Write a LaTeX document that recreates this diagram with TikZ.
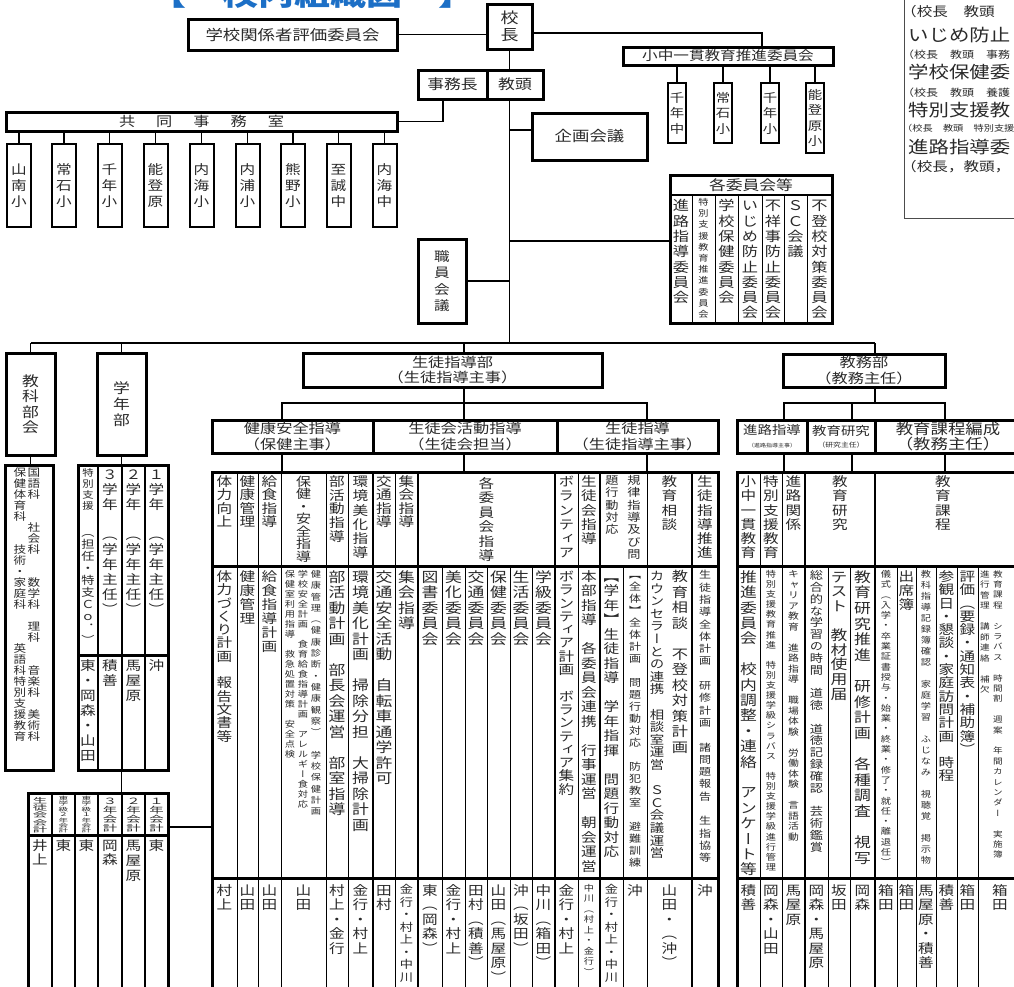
\documentclass[tikz,border=0pt]{standalone}
\usepackage{fontspec}
\usepackage{graphicx}
\newfontfamily\jp{Noto Sans CJK JP}[FakeStretch=1.2]
\newfontfamily\jpv{Noto Sans CJK JP}[FakeStretch=1.2,RawFeature={+vert}]
\definecolor{txt}{HTML}{2A2A2A}
\definecolor{ttl}{HTML}{1C6FC6}
\def\vtend{VTEND}
\def\vys{1}
\def\vtloop#1{\ifx\vtend#1\else\hbox to 0pt{\hss\scalebox{1}[\vys]{\vrule height .88em depth .12em width 0pt\relax #1}\hss}\expandafter\vtloop\fi}
\newcommand\vt[2]{\vbox{\baselineskip=#1pt\lineskiplimit=-1000pt\lineskip=0pt\relax\vtloop#2\vtend}}
\newcommand\vc[7]{\node[vcol,font=\jpv\fontsize{#4}{#4}\selectfont] (#1) at (#2,#3) {\def\vys{#6}\vt{#5}{#7}};}
\tikzset{
  vcol/.style={anchor=north,inner sep=0pt,outer sep=0pt,text=txt},
  bx/.style={draw=black,line width=3pt,fill=white,inner sep=0pt,outer sep=0pt,text=txt},
  sbx/.style={bx,line width=2pt,font=\jpv\fontsize{12}{12}\selectfont},
  cn/.style={draw=black,line width=1.3pt},
  tb/.style={draw=black,line width=3pt},
  thn/.style={draw=black,line width=1pt},
  thk/.style={draw=black,line width=2.2pt},
  itx/.style={anchor=west,inner sep=0pt,text=txt},
  hfont/.style={font=\jp\fontsize{#1}{#1}\selectfont},
  twol/.style={font=\jp\fontsize{#1}{15.5}\selectfont,align=center},
}
\begin{document}
\begin{tikzpicture}[x=1pt,y=-1pt]
\useasboundingbox (0,0) rectangle (1014,986);
\clip (0,0) rectangle (1014,986);
\fill[white] (0,0) rectangle (1014,986);

% title
\node[anchor=base,inner sep=0pt,text=ttl,font=\jp\fontsize{30}{30}\selectfont\bfseries] (title) at (312,5) {【　校内組織図　】};

% top-right info box
\node[draw=black!70,line width=1pt,minimum width=130pt,minimum height=240pt,inner sep=0pt] (info) at (969,98) {};
\node[itx,hfont=13] (i1) at (901,12) {（校長　教頭　};
\node[itx,hfont=17] (i2) at (908,35) {いじめ防止};
\node[itx,hfont=10] (i3) at (902,55) {（校長　教頭　事務};
\node[itx,hfont=17] (i4) at (908,72) {学校保健委};
\node[itx,hfont=10] (i5) at (902,93) {（校長　教頭　養護};
\node[itx,hfont=17] (i6) at (908,110) {特別支援教};
\node[itx,hfont=8.5] (i7) at (902,128) {（校長　教頭　特別支援};
\node[itx,hfont=17] (i8) at (908,147) {進路指導委};
\node[itx,hfont=13] (i9) at (901,167) {（校長，教頭，};

% top
\node[bx,minimum width=209pt,minimum height=31pt,hfont=14.5] (hyoka) at (292.5,34.5) {学校関係者評価委員会};
\node[bx,minimum width=45pt,minimum height=45pt,font=\jpv\fontsize{15}{15}\selectfont] (kocho) at (509.5,26.5) {\vt{17}{校長}};
\draw[cn] (hyoka.east) -- (hyoka.east -| kocho.west);

\node[bx,minimum width=210pt,minimum height=18pt,hfont=13] (shochu) at (728,56) {小中一貫教育推進委員会};
\coordinate (y33) at (0,33);
\coordinate (scx) at (762,0);
\draw[cn] (kocho.east |- y33) -| (scx |- shochu.north);
\node[sbx,minimum width=18pt,minimum height=60pt] (sk1) at (677,113) {\vt{15.5}{千年中}};
\node[sbx,minimum width=18pt,minimum height=60pt] (sk2) at (723,113) {\vt{15.5}{常石小}};
\node[sbx,minimum width=18pt,minimum height=60pt] (sk3) at (770,113) {\vt{15.5}{千年小}};
\node[sbx,minimum width=18pt,minimum height=70pt] (sk4) at (815,118) {\vt{15.5}{能登原小}};
\foreach \n in {sk1,sk2,sk3,sk4}{\draw[cn] (\n.north) -- (\n.north |- shochu.south);}

\node[bx,minimum width=69pt,minimum height=29pt,hfont=14] (jimu) at (452.5,84.5) {事務長};
\node[bx,minimum width=56pt,minimum height=29pt,hfont=14] (kyoto) at (515,84.5) {教頭};
\draw[cn] (kocho.south) -- (kocho.south |- kyoto.north);

\node[bx,minimum width=391pt,minimum height=19pt,hfont=13.5] (kyodo) at (201.5,121.5) {共\hspace{21pt}同\hspace{21pt}事\hspace{21pt}務\hspace{21pt}室};
\coordinate (jx) at (443,0);
\draw[cn] (jx |- jimu.south) |- (kyodo.east);
\node[sbx,minimum width=24pt,minimum height=83pt,font=\jpv\fontsize{13}{13}\selectfont] (sch1) at (19,185.5) {\vt{16}{山南小}};
\node[sbx,minimum width=24pt,minimum height=83pt,font=\jpv\fontsize{13}{13}\selectfont] (sch2) at (64,185.5) {\vt{16}{常石小}};
\node[sbx,minimum width=24pt,minimum height=83pt,font=\jpv\fontsize{13}{13}\selectfont] (sch3) at (109.5,185.5) {\vt{16}{千年小}};
\node[sbx,minimum width=24pt,minimum height=83pt,font=\jpv\fontsize{13}{13}\selectfont] (sch4) at (155.5,185.5) {\vt{16}{能登原}};
\node[sbx,minimum width=24pt,minimum height=83pt,font=\jpv\fontsize{13}{13}\selectfont] (sch5) at (201.5,185.5) {\vt{16}{内海小}};
\node[sbx,minimum width=24pt,minimum height=83pt,font=\jpv\fontsize{13}{13}\selectfont] (sch6) at (247.5,185.5) {\vt{16}{内浦小}};
\node[sbx,minimum width=24pt,minimum height=83pt,font=\jpv\fontsize{13}{13}\selectfont] (sch7) at (293,185.5) {\vt{16}{熊野小}};
\node[sbx,minimum width=24pt,minimum height=83pt,font=\jpv\fontsize{13}{13}\selectfont] (sch8) at (338.5,185.5) {\vt{16}{至誠中}};
\node[sbx,minimum width=24pt,minimum height=83pt,font=\jpv\fontsize{13}{13}\selectfont] (sch9) at (384.5,185.5) {\vt{16}{内海中}};
\foreach \n in {sch1,sch2,sch3,sch4,sch5,sch6,sch7,sch8,sch9}{\draw[cn] (\n.north) -- (\n.north |- kyodo.south);}

% trunk
\coordinate (tr) at (509.5,343);
\draw[cn] (kocho.south |- kyoto.south) -- (tr);
\node[bx,minimum width=115pt,minimum height=47pt,hfont=14.5] (kikaku) at (589.5,136.5) {企画会議};
\coordinate (y130) at (0,130);
\draw[cn] (tr |- y130) -- (kikaku.west |- y130);

\node[bx,minimum width=162pt,minimum height=148pt] (kakui) at (751,249) {};
\draw[line width=1.5pt] (670,195) -- (832,195);
\foreach \x in {692,715,738,762,784,807}{\draw[thn] (\x,195) -- (\x,323);}
\node[inner sep=0pt,text=txt,hfont=14] (kakuih) at (751,185.5) {各委員会等};
\vc{kc1}{681}{199}{13.5}{15.3}{1}{進路指導委員会}
\vc{kc2}{703.5}{198}{8.5}{11.2}{1}{特別支援教育推進委員会}
\vc{kc3}{726.5}{199}{13.5}{15.3}{1}{学校保健委員会}
\vc{kc4}{750}{199}{13.5}{15.3}{1}{いじめ防止委員会}
\vc{kc5}{773}{199}{13.5}{15.3}{1}{不祥事防止委員会}
\vc{kc6}{795.5}{199}{13.5}{15.3}{1}{ＳＣ会議}
\vc{kc7}{819.5}{199}{13.5}{15.3}{1}{不登校対策委員会}
\coordinate (y241) at (0,241);
\draw[cn] (tr |- y241) -- (kakui.west |- y241);

\node[bx,minimum width=48pt,minimum height=84pt,font=\jpv\fontsize{13}{13}\selectfont] (shokuin) at (442,281) {\vt{16.5}{職員会議}};
\draw[cn] (shokuin.east) -- (shokuin.east -| tr);

% main horizontal
\coordinate (hl) at (30.5,343);
\coordinate (hr) at (875,343);
\draw[cn] (hl) -- (hr);

\node[bx,minimum width=49pt,minimum height=102pt,font=\jpv\fontsize{14}{14}\selectfont] (kyoka) at (30.5,404) {\vt{15.5}{教科部会}};
\node[bx,minimum width=49pt,minimum height=102pt,font=\jpv\fontsize{14}{14}\selectfont] (gakunen) at (121.5,404) {\vt{16}{学年部}};
\draw[cn] (hl) -- (hl |- kyoka.north);
\draw[cn] (gakunen.north) -- (gakunen.north |- hl);

\node[bx,minimum width=299pt,minimum height=34pt,twol=13.5] (seishibu) at (452.5,370) {生徒指導部\\（生徒指導主事）};
\coordinate (sx) at (464,0);
\draw[cn] (sx |- hl) -- (sx |- seishibu.north);
\node[bx,minimum width=162pt,minimum height=33pt,twol=13.5] (kyomu) at (864,370.5) {教務部\\（教務主任）};
\draw[cn] (hr) -- (hr |- kyomu.north);

% sub headers
\node[bx,minimum width=161pt,minimum height=33pt,twol=13.5] (kenko) at (292.5,436.5) {健康安全指導\\（保健主事）};
\node[bx,minimum width=184pt,minimum height=33pt,twol=13.5] (seitokai) at (465,436.5) {生徒会活動指導\\（生徒会担当）};
\node[bx,minimum width=161pt,minimum height=33pt,twol=13.5] (seishi) at (637.5,436.5) {生徒指導\\（生徒指導主事）};
\coordinate (ax) at (282,0);
\coordinate (cx) at (647,0);
\coordinate (y403) at (0,403);
\draw[cn] (ax |- kenko.north) -- (ax |- y403) -- (cx |- y403) -- (cx |- seishi.north);
\draw[cn] (sx |- seishibu.south) -- (sx |- seitokai.north);

\node[bx,minimum width=70pt,minimum height=33pt,align=center,font=\jp] (shinro) at (772,436.5) {\fontsize{12}{12}\selectfont 進路指導\\[1pt]\fontsize{5}{5}\selectfont（進路指導主事）};
\node[bx,minimum width=68pt,minimum height=33pt,align=center,font=\jp] (kyoken) at (841,436.5) {\fontsize{12}{12}\selectfont 教育研究\\[0pt]\fontsize{6.5}{6.5}\selectfont（研究主任）};
\node[bx,minimum width=146pt,minimum height=33pt,twol=14.5] (kyokatei) at (948,436.5) {教育課程編成\\（教務主任）};
\coordinate (r1) at (784,0);
\coordinate (r2) at (852,0);
\coordinate (r3) at (945,0);
\draw[cn] (hr |- kyomu.south) -- (hr |- y403);
\draw[cn] (r1 |- shinro.north) -- (r1 |- y403) -- (r3 |- y403) -- (r3 |- kyokatei.north);
\draw[cn] (r2 |- y403) -- (r2 |- kyoken.north);

% tables as nodes
\node[tb,minimum width=506pt,minimum height=528pt,inner sep=0pt] (ltab) at (465,736) {};
\node[tb,minimum width=293pt,minimum height=528pt,inner sep=0pt] (rtab) at (883.5,736) {};
\foreach \c in {ax,sx,cx}{\draw[cn] (\c |- kenko.south) -- (\c |- ltab.north);}
\foreach \c in {r1,r2,r3}{\draw[cn] (\c |- shinro.south) -- (\c |- rtab.north);}

% left table grid
\draw[tb] (212,566) -- (718,566);
\draw[tb] (212,878) -- (718,878);
\foreach \x in {237,258,281,326,348,395,578,647}{\draw[thn] (\x,472) -- (\x,566);}
\foreach \x in {373,418,555,600,692}{\draw[thk] (\x,472) -- (\x,1000);}
\foreach \x in {237,258,281,326,348,395,442,465,487,510,532,578,623,647}{\draw[thn] (\x,566) -- (\x,1000);}

% right table grid
\draw[tb] (737,566) -- (1030,566);
\draw[tb] (737,878) -- (1030,878);
\foreach \x in {760,782}{\draw[thn] (\x,472) -- (\x,1000);}
\foreach \x in {805,875}{\draw[thk] (\x,472) -- (\x,1000);}
\foreach \x in {828,850,897,916,936,957,978}{\draw[thn] (\x,566) -- (\x,1000);}

% left table header
\vc{h1}{224.5}{475}{13}{13.5}{1}{体力向上}
\vc{h2}{247.5}{475}{13}{13.5}{1}{健康管理}
\vc{h3}{269.5}{475}{13}{13.5}{1}{給食指導}
\vc{h4}{303.5}{475}{12.5}{12.5}{1}{保健・安全指導}
\vc{h5}{337}{475}{13}{13.7}{1}{部活動指導}
\vc{h6}{360.5}{475}{13}{14.3}{1}{環境美化指導}
\vc{h7}{384}{475}{13}{13.5}{1}{交通指導}
\vc{h8}{406.5}{475}{13}{13.5}{1}{集会指導}
\vc{h9}{486.5}{477}{13}{14.5}{1}{各委員会指導}
\vc{h10}{566.5}{475}{13}{14.3}{1}{ボランティア}
\vc{h11}{589}{475}{13}{14.3}{1}{生徒会指導}
\vc{h12}{634}{475}{11}{12.3}{1}{規律指導及び問}
\vc{h13}{612}{475}{11}{12.3}{1}{題行動対応}
\vc{h14}{669.5}{475}{13}{14.3}{1}{教育相談}
\vc{h15}{705}{475}{13}{14.3}{1}{生徒指導推進}

% left table content
\vc{c1}{224.5}{570}{13}{13.3}{1}{体力づくり計画　報告文書等}
\vc{c2}{247.5}{570}{13}{14}{1}{健康管理}
\vc{c3}{269.5}{570}{13}{14}{1}{給食指導計画}
\vc{c4a}{316}{570}{8.5}{11.3}{1}{健康管理（健康診断・健康観察）　学校保健計画}
\vc{c4b}{303}{570}{8.5}{10}{1}{学校安全計画　食育給食指導計画　アレルギー食対応}
\vc{c4c}{290}{570}{8.5}{10}{1}{保健室利用指導　救急処置対策　安全点検}
\vc{c5}{337}{570}{14}{15.5}{1}{部活動計画　部長会運営　部室指導}
\vc{c6}{360.5}{570}{14}{15.5}{1}{環境美化計画　掃除分担　大掃除計画}
\vc{c7}{384}{570}{14}{15.5}{1}{交通安全活動　自転車通学許可}
\vc{c8}{406.5}{570}{14}{15.5}{1}{集会指導}
\vc{c9}{430}{570}{14}{15.5}{1}{図書委員会}
\vc{c10}{453.5}{570}{14}{15.5}{1}{美化委員会}
\vc{c11}{476}{570}{14}{15.5}{1}{交通委員会}
\vc{c12}{498.5}{570}{14}{15.5}{1}{保健委員会}
\vc{c13}{521}{570}{14}{15.5}{1}{生活委員会}
\vc{c14}{543.5}{570}{14}{15.5}{1}{学級委員会}
\vc{c15}{566.5}{570}{13}{13.3}{1}{ボランティア計画　ボランティア集約}
\vc{c16}{589}{570}{13}{14.5}{1}{本部指導　各委員会連携　行事運営　朝会運営}
\vc{c17}{611.5}{570}{13}{14.5}{1}{【学年】生徒指導　学年指揮　問題行動対応}
\vc{c18}{635}{570}{10}{12}{1}{【全体】全体計画　問題行動対応　防犯教室　避難訓練}
\vc{c19}{680}{570}{13.5}{15.5}{1}{教育相談　不登校対策計画}
\vc{c20}{657}{570}{12}{12.6}{1}{カウンセラーとの連携　相談室運営　ＳＣ会議運営}
\vc{c21}{705}{570}{10}{12.3}{1}{生徒指導全体計画　研修計画　諸問題報告　生指協等}

% left table names
\vc{n1}{224.5}{884}{13}{14.5}{1}{村上}
\vc{n2}{247.5}{884}{13}{14.5}{1}{山田}
\vc{n3}{269.5}{884}{13}{14.5}{1}{山田}
\vc{n4}{303.5}{884}{13}{14.5}{1}{山田}
\vc{n5}{337}{884}{13}{14.5}{1}{村上・金行}
\vc{n6}{360.5}{884}{13}{14.5}{1}{金行・村上}
\vc{n7}{384}{884}{13}{14.5}{1}{田村}
\vc{n8}{406.5}{884}{11}{12.5}{1}{金行・村上・中川}
\vc{n9}{430}{884}{13}{14.5}{1}{東（岡森）}
\vc{n10}{453.5}{884}{13}{14.5}{1}{金行・村上}
\vc{n11}{476}{884}{13}{14.5}{1}{田村（積善）}
\vc{n12}{498.5}{884}{13}{14.5}{1}{山田（馬屋原）}
\vc{n13}{521}{884}{13}{14.5}{1}{沖（坂田）}
\vc{n14}{543.5}{884}{13}{14.5}{1}{中川（箱田）}
\vc{n15}{566.5}{884}{13}{14.5}{1}{金行・村上}
\vc{n16}{589}{884}{8.5}{10.5}{1}{中川（村上・金行）}
\vc{n17}{611.5}{884}{11}{12.5}{1}{金行・村上・中川}
\vc{n18}{635}{884}{13}{14.5}{1}{沖}
\vc{n19}{669.5}{884}{13}{14.5}{1}{山田・（沖）}
\vc{n20}{705}{884}{13}{14.5}{1}{沖}

% right table header
\vc{rh1}{748.5}{475}{13}{14.3}{1}{小中一貫教育}
\vc{rh2}{771}{475}{13}{14.3}{1}{特別支援教育}
\vc{rh3}{793.5}{475}{13}{14.3}{1}{進路関係}
\vc{rh4}{840}{475}{13}{14.3}{1}{教育研究}
\vc{rh5}{943}{475}{13}{14.3}{1}{教育課程}

% right table content
\vc{rc1}{748.5}{570}{14}{15.4}{1}{推進委員会　校内調整・連絡　アンケート等}
\vc{rc2}{771}{570}{8.5}{10.1}{1}{特別支援教育推進　特別支援学級シラバス　特別支援学級進行管理}
\vc{rc3}{793.5}{570}{9}{10.5}{1}{キャリア教育　進路指導　職場体験　労働体験　言語活動}
\vc{rc4}{816.5}{570}{11}{11.8}{1}{総合的な学習の時間　道徳　道徳記録確認　芸術鑑賞}
\vc{rc5}{839}{570}{14}{14.6}{1}{テスト　教材使用届}
\vc{rc6}{862.5}{570}{14}{15.6}{1}{教育研究推進　研修計画　各種調査　視写}
\vc{rc7}{886}{570}{8.5}{10.3}{1}{儀式（入学・卒業証書授与・始業・終業・修了・就任・離退任）}
\vc{rc8}{906.5}{570}{13}{14}{1}{出席簿}
\vc{rc9}{926}{570}{8.5}{11}{1}{教科指導記録簿確認　家庭学習　ふじなみ　視聴覚　掲示物}
\vc{rc10}{946.5}{570}{13}{13.3}{1}{参観日・懇談・家庭訪問計画　時程}
\vc{rc11}{967.5}{570}{13}{13.3}{1}{評価（要録・通知表・補助簿）}
\vc{rc12}{985}{570}{8}{10.5}{1}{進行管理　講師連絡　補欠}
\vc{rc13}{998}{570}{8}{10.4}{1}{教育課程　シラバス　時間割　週案　年間カレンダー　実施簿}

% right table names
\vc{rn1}{748.5}{884}{13}{14.5}{1}{積善}
\vc{rn2}{771}{884}{13}{14.5}{1}{岡森・山田}
\vc{rn3}{793.5}{884}{13}{14.5}{1}{馬屋原}
\vc{rn4}{816.5}{884}{13}{14.5}{1}{岡森・馬屋原}
\vc{rn5}{839}{884}{13}{14.5}{1}{坂田}
\vc{rn6}{862.5}{884}{13}{14.5}{1}{岡森}
\vc{rn7}{886}{884}{13}{14.5}{1}{箱田}
\vc{rn8}{906.5}{884}{13}{14.5}{1}{箱田}
\vc{rn9}{926}{884}{13}{14.5}{1}{馬屋原・積善}
\vc{rn10}{946.5}{884}{13}{14.5}{1}{積善}
\vc{rn11}{967.5}{884}{13}{14.5}{1}{箱田}
\vc{rn12}{1000}{884}{13}{14.5}{1}{箱田}

% 教科部会 content
\node[bx,minimum width=48pt,minimum height=305pt] (kyokac) at (29,617.5) {};
\draw[cn] (kyoka.south) -- (kyoka.south |- kyokac.north);
\vc{k1}{34}{467}{10.5}{11}{1}{国語科　　社会科　　数学科　理科　　音楽科　美術科}
\vc{k2}{20}{467}{10.5}{11}{1}{保健体育科　　技術・家庭科　　　英語科特別支援教育}

% 学年部 table
\node[tb,minimum width=90pt,minimum height=305pt,inner sep=0pt] (gtab) at (123,617.5) {};
\draw[tb] (78,655) -- (168,655);
\foreach \x in {98,122,145}{\draw[line width=2pt] (\x,465) -- (\x,770);}
\draw[cn] (gakunen.south) -- (gakunen.south |- gtab.north);
\vc{g1a}{88}{468}{9.5}{11}{1}{特別支援}
\vc{g1b}{88}{527}{11}{12}{1}{（担任・特支Ｃｏ．）}
\vc{g2}{110}{468}{13}{15}{1}{３学年　（学年主任）}
\vc{g3}{133.5}{468}{13}{15}{1}{２学年　（学年主任）}
\vc{g4}{156.5}{468}{13}{15}{1}{１学年　（学年主任）}
\vc{gn1}{88}{659}{13}{15}{1}{東・岡森・山田}
\vc{gn2}{110}{659}{13}{15}{1}{積善}
\vc{gn3}{133.5}{659}{13}{15}{1}{馬屋原}
\vc{gn4}{156.5}{659}{13}{15}{1}{沖}

% accounting table
\node[tb,minimum width=140pt,minimum height=207pt,inner sep=0pt] (acct) at (98,896.5) {};
\draw[tb] (28,835) -- (168,835);
\foreach \x in {52,75,98,122,145}{\draw[line width=2pt] (\x,793) -- (\x,1000);}
\draw[cn] (gakunen.south |- gtab.south) -- (gakunen.south |- acct.north);
\coordinate (y827) at (0,827);
\draw[cn] (acct.east |- y827) -- (ltab.west |- y827);
\vc{a1}{40}{797}{12}{7.3}{0.6}{生徒会会計}
\vc{a2}{63.5}{796}{8}{5.4}{0.65}{東学級２年会計}
\vc{a3}{86.5}{796}{8}{5.4}{0.65}{東学級１年会計}
\vc{a4}{110}{797}{12}{9}{0.72}{３年会計}
\vc{a5}{133.5}{797}{12}{9}{0.72}{２年会計}
\vc{a6}{156.5}{797}{12}{9}{0.72}{１年会計}
\vc{an1}{40}{839}{13}{14}{1}{井上}
\vc{an2}{63.5}{839}{13}{14}{1}{東}
\vc{an3}{86.5}{839}{13}{14}{1}{東}
\vc{an4}{110}{839}{13}{14}{1}{岡森}
\vc{an5}{133.5}{839}{13}{15}{1}{馬屋原}
\vc{an6}{156.5}{839}{13}{14}{1}{東}
\end{tikzpicture}
\end{document}
